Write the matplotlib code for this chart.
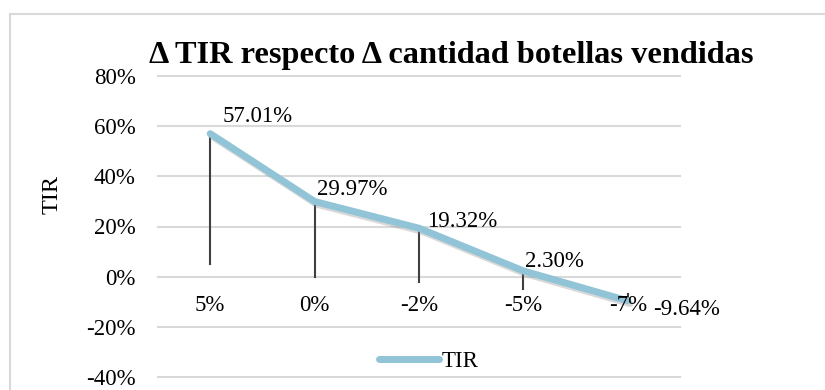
import matplotlib
matplotlib.use("Agg")
import matplotlib.pyplot as plt
import matplotlib.patheffects as pe
from matplotlib.lines import Line2D

# Sensitivity of TIR to the change in bottles sold
categories = ["5%", "0%", "-2%", "-5%", "-7%"]
bottle_change = [5, 0, -2, -5, -7]
tir = [57.01, 29.97, 19.32, 2.30, -9.64]
tir_labels = ["57.01%", "29.97%", "19.32%", "2.30%", "-9.64%"]
y_ticks = [-40, -20, 0, 20, 40, 60, 80]

# label offsets in pixels (dx, dy)
label_offsets = [(12, 17), (2, 12), (8, 7), (2, 9), (25, -9)]

plt.rcParams["font.family"] = ["Liberation Serif", "DejaVu Serif"]

line_color = "#91C4D6"
grid_color = "#D9D9D9"
text_size = 16.5

fig = plt.figure(figsize=(8.25, 3.9), dpi=100)
ax = fig.add_axes([158 / 825, 1 - 377 / 390, (680 - 158) / 825, (377 - 76) / 390])

x = list(range(len(categories)))

# horizontal gridlines
for yt in y_ticks:
    ax.axhline(yt, color=grid_color, lw=1.5, zorder=0, clip_on=False)

# drop lines from each TIR value to the bottle change value
for xi, t, b in zip(x, tir, bottle_change):
    ax.plot([xi, xi], [t, b], color="#404040", lw=1.5, zorder=2)

ax.plot(x, tir, color=line_color, lw=5, solid_capstyle="round", zorder=3,
        label="TIR",
        path_effects=[pe.SimpleLineShadow(offset=(1.5, -2), shadow_color="gray", alpha=0.3),
                      pe.Normal()])

for xi, t, lab, off in zip(x, tir, tir_labels, label_offsets):
    ax.annotate(lab, (xi, t), xytext=off, textcoords="offset pixels",
                ha="left", va="center", fontsize=text_size, color="black", zorder=4)

# category labels just below the zero line
for xi, c in zip(x, categories):
    ax.annotate(c, (xi, 0), xytext=(0, -29), textcoords="offset pixels",
                ha="center", va="center", fontsize=text_size, color="black")

ax.set_xlim(-0.5, len(categories) - 0.5)
ax.set_ylim(-40, 80)
ax.set_yticks(y_ticks)
ax.set_yticklabels([f"{v}%" for v in y_ticks], fontsize=text_size)
ax.set_xticks([])
ax.tick_params(axis="y", length=0, pad=16)
for s in ax.spines.values():
    s.set_visible(False)

fig.text(52 / 825, 1 - 195 / 390, "TIR", rotation=90, ha="center", va="center",
         fontsize=17.5)
fig.text(451 / 825, 1 - 56 / 390, "Δ TIR respecto Δ cantidad botellas vendidas",
         ha="center", va="center", fontsize=23.3, fontweight="bold")

fig.legend(handles=[Line2D([], [], color=line_color, lw=5, solid_capstyle="round")],
           labels=["TIR"], loc="center", bbox_to_anchor=(429 / 825, 1 - 361 / 390),
           frameon=False, fontsize=text_size, handlelength=2.6, handletextpad=0.15,
           borderpad=0)

# chart area border (top and left edges)
fig.add_artist(Line2D([10 / 825, 1], [1 - 14 / 390] * 2, color=grid_color, lw=1.5,
                      transform=fig.transFigure))
fig.add_artist(Line2D([10 / 825] * 2, [0, 1 - 14 / 390], color=grid_color, lw=1.5,
                      transform=fig.transFigure))

fig.savefig("out.png", dpi=100)
